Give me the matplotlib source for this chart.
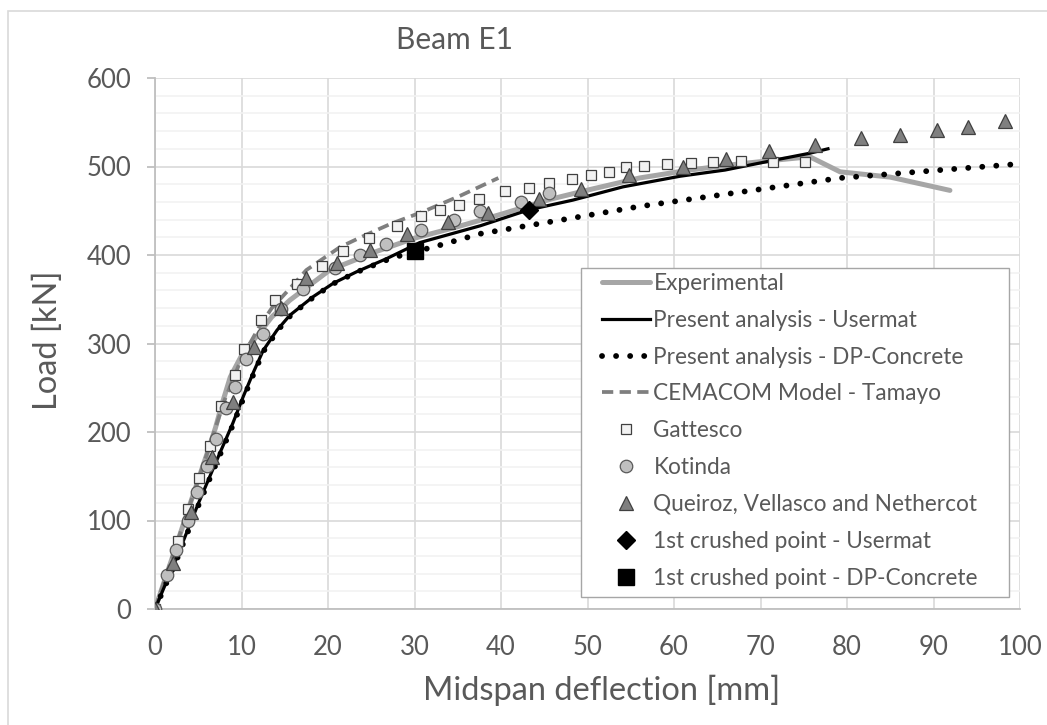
import matplotlib
matplotlib.use("Agg")
import matplotlib.pyplot as plt
from matplotlib.patches import Rectangle
from matplotlib.ticker import MultipleLocator

plt.rcParams['font.family'] = ['Lato', 'DejaVu Sans']

# Experimental curve
exp_x = [0, 2, 4, 6, 7.0, 7.7, 8.7, 10.2, 11.75, 13.5, 15.6, 20.2, 25.6, 30, 35, 40, 45.7, 50.3, 56, 61.8, 67.6, 71.5,
         75.7, 79.2, 85, 91.9]
exp_y = [0, 58, 117, 175, 205, 230, 262, 290, 308, 330, 349, 383, 404, 419, 432, 446, 463, 474, 487, 496, 503, 507,
         511, 494, 488, 473]

# Present analysis - Usermat
um_x = [0, 2.5, 5, 7, 9, 10.2, 11.4, 12.5, 14.1, 15.6, 18.3, 20.6, 23.3, 26.8, 30.6, 37.6, 43.2, 48.3, 54.1, 60.7,
        65.9, 71.5, 75.7, 77.8]
um_y = [0, 58, 119, 165, 210, 240, 268, 292, 315, 332, 353, 368, 381, 396, 414, 433, 451, 462, 477, 489,
        496, 507, 515, 520]

# Present analysis - DP-Concrete
dp_x = [0, 2.6, 5.1, 7.1, 9.1, 10.3, 11.5, 12.6, 14.2, 15.7, 18.4, 20.7, 23.4, 27.2, 30, 31.8, 37.6, 46, 56.1, 67.6,
        79.2, 90.8, 100]
dp_y = [0, 58, 119, 165, 210, 240, 268, 292, 315, 332, 353, 368, 381, 396, 404, 408, 424, 438, 455, 471,
        487, 496, 503]

# CEMACOM Model - Tamayo
cem_x = [0, 3, 6, 8, 10, 12, 13.5, 15.2, 17.5, 21.4, 24, 27.2, 31, 35.3, 39.7]
cem_y = [0, 88, 175, 235, 283, 318, 340, 358, 383, 409, 421, 435, 449, 467, 487]

gat_x = [0, 2.7, 3.8, 5.05, 6.4, 7.6, 9.2, 10.3, 12.2, 13.9, 16.4, 19.3, 21.7, 24.7, 28.0, 30.8, 33.0, 35.1, 37.4, 40.5,
         43.2, 45.5, 48.2, 50.4, 52.5, 54.5, 56.5, 59.2, 62.0, 64.5, 67.8, 71.5, 75.2]
gat_y = [0, 77, 113, 148, 184, 229, 264, 294, 326, 349, 367, 388, 404, 419, 433, 444, 451, 456, 463, 472,
         476, 481, 486, 490, 494, 499, 501, 503, 504, 505, 506, 505, 505]

kot_x = [0, 1.35, 2.4, 3.85, 4.8, 6.0, 7.05, 8.2, 9.3, 10.5, 12.45, 14.6, 17.1, 20.8, 23.7, 26.7, 30.8, 34.6, 37.6, 42.3, 45.6]
kot_y = [0, 38, 67, 100, 132, 162, 192, 227, 251, 283, 311, 339, 362, 385, 400, 412, 428, 439, 450, 460, 470]

que_x = [0, 2.1, 4.2, 6.55, 9.05, 11.5, 14.6, 17.5, 21.0, 24.8, 29.1, 33.9, 38.5, 44.4, 49.3, 54.8, 61.0, 66.0, 71.0,
         76.3, 81.6, 86.1, 90.4, 94.0, 98.3]
que_y = [0, 52, 110, 172, 234, 296, 340, 374, 391, 406, 424, 437, 448, 463, 475, 490, 500, 508, 518,
         524, 532, 536, 541, 545, 551]

crush_um = (43.2, 451)
crush_dp = (30.0, 405)

W, H = 1047, 725
fig = plt.figure(figsize=(W / 100, H / 100), dpi=100)
ax = fig.add_axes([155 / W, 1 - 609 / H, 865 / W, 531 / H])

txt = '#595959'

ax.plot(exp_x, exp_y, color='#a6a6a6', lw=3.6, solid_capstyle='round', solid_joinstyle='round',
        label='Experimental', zorder=3)
ax.plot(um_x, um_y, color='black', lw=2.3, solid_joinstyle='round', label='Present analysis - Usermat', zorder=4)
ax.plot(dp_x, dp_y, color='black', lw=4.2, linestyle=(0, (0.01, 2.4)), dash_capstyle='round',
        label='Present analysis - DP-Concrete', zorder=4)
ax.plot(cem_x, cem_y, color='#7f7f7f', lw=2.7, linestyle=(0, (3.0, 1.7)),
        label='CEMACOM Model - Tamayo', zorder=3)
ax.plot(gat_x, gat_y, ls='none', marker='s', ms=7, mfc='#f2f2f2', mec='#404040', mew=0.9,
        label='Gattesco', zorder=5)
ax.plot(kot_x, kot_y, ls='none', marker='o', ms=9, mfc='#bfbfbf', mec='#595959', mew=0.9,
        label='Kotinda', zorder=5)
ax.plot(que_x, que_y, ls='none', marker='^', ms=10.5, mfc='#7f7f7f', mec='#404040', mew=0.9,
        label='Queiroz, Vellasco and Nethercot', zorder=5)
ax.plot([crush_um[0]], [crush_um[1]], ls='none', marker='D', ms=9.5, color='black',
        label='1st crushed point - Usermat', zorder=6)
ax.plot([crush_dp[0]], [crush_dp[1]], ls='none', marker='s', ms=11.5, color='black',
        label='1st crushed point - DP-Concrete', zorder=6)

ax.set_xlim(0, 100)
ax.set_ylim(0, 600)
ax.xaxis.set_major_locator(MultipleLocator(10))
ax.yaxis.set_major_locator(MultipleLocator(100))
ax.yaxis.set_minor_locator(MultipleLocator(20))
ax.grid(True, which='major', color='#d9d9d9', lw=1.2, zorder=0)
ax.grid(True, which='minor', axis='y', color='#f2f2f2', lw=1.2, zorder=0)
ax.set_axisbelow(True)

for s in ['top', 'right']:
    ax.spines[s].set_visible(False)
for s in ['left', 'bottom']:
    ax.spines[s].set_color('#bfbfbf')
    ax.spines[s].set_linewidth(1.3)

ax.tick_params(axis='y', which='major', length=6, color='#bfbfbf', width=1.3, pad=11, labelsize=18.5, labelcolor=txt)
ax.tick_params(axis='y', which='minor', length=0)
ax.tick_params(axis='x', length=0, pad=19, labelsize=18.5, labelcolor=txt)

# legend frame drawn separately so the handles sit inset like in the original
ax.add_patch(Rectangle((0.4925, 0.0226), 0.4948, 0.6196, transform=ax.transAxes, facecolor='white',
                       edgecolor='#a6a6a6', lw=1.0, zorder=7))
leg = ax.legend(loc='upper left', bbox_to_anchor=(0.5168, 0.633), fontsize=16.3, frameon=False,
                handlelength=2.12, handletextpad=0.15, labelspacing=0.7, borderaxespad=0, borderpad=0,
                numpoints=1)
leg.set_zorder(8)
for t in leg.get_texts():
    t.set_color(txt)

fig.text(455 / W, 1 - 40 / H, 'Beam E1', ha='center', va='center', fontsize=21.5, color=txt)
fig.text(602 / W, 1 - 690 / H, 'Midspan deflection [mm]', ha='center', va='center', fontsize=23.5, color=txt)
fig.text(48 / W, 1 - 340 / H, 'Load [kN]', ha='center', va='center', rotation=90, fontsize=23.5, color=txt)

fig.patches.append(Rectangle((8 / W, -0.1), 1.2, 1 - 11 / H + 0.1, transform=fig.transFigure,
                             fill=False, edgecolor='#d9d9d9', lw=1.2, zorder=-1))

fig.savefig('out.png', dpi=100)
